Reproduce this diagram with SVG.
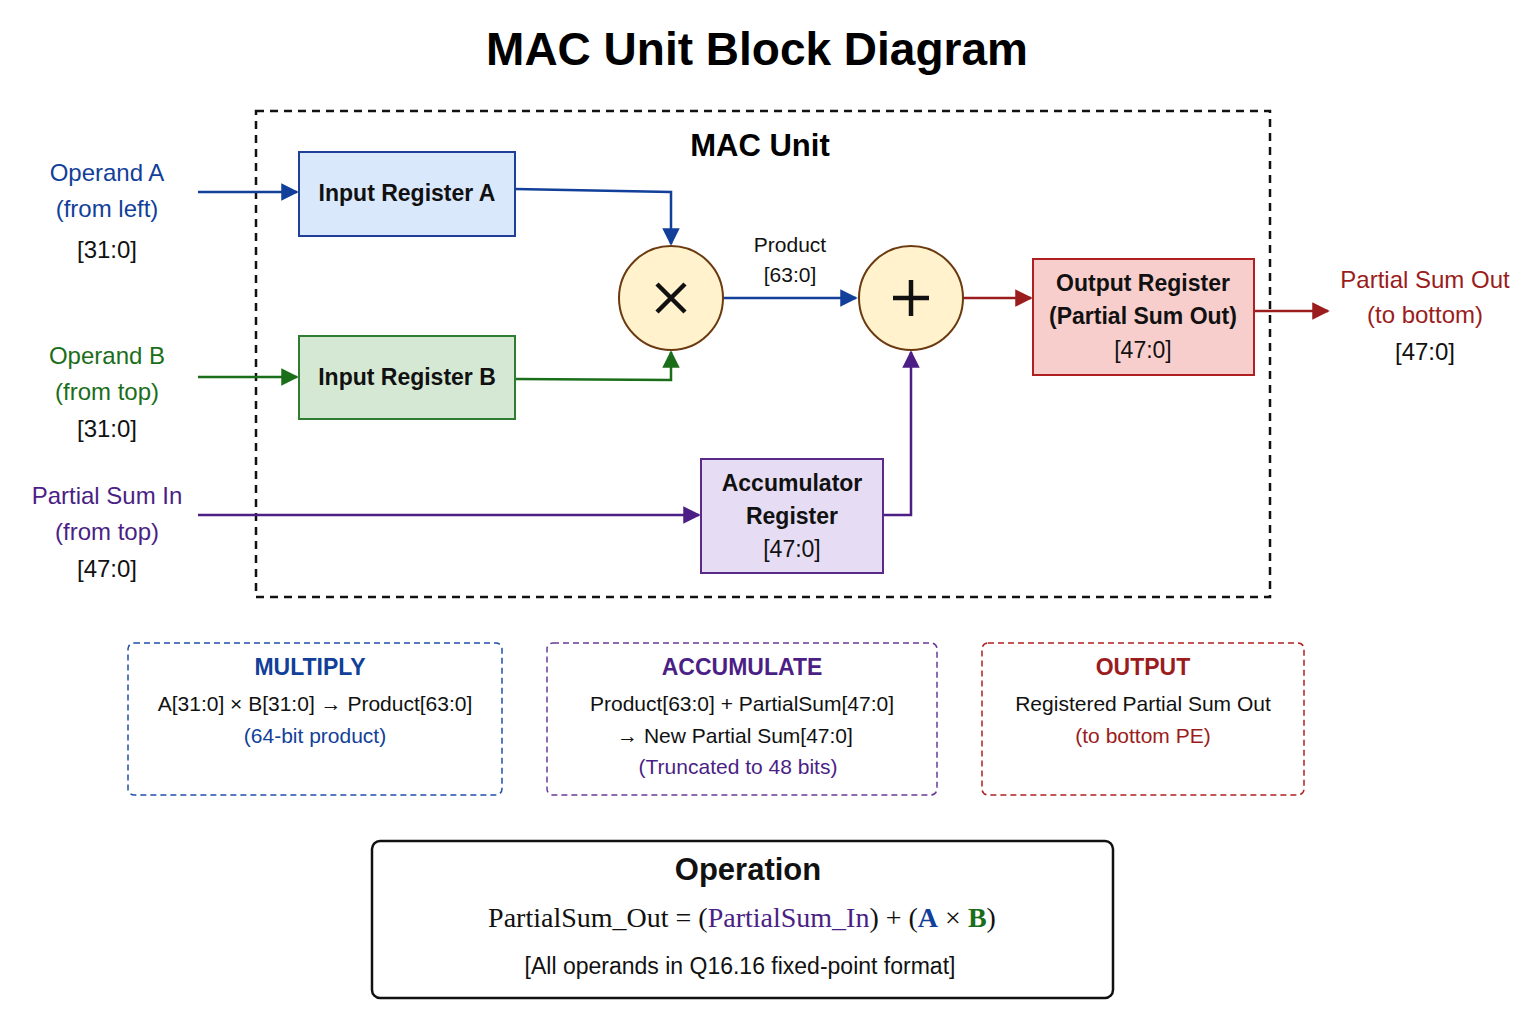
<svg xmlns="http://www.w3.org/2000/svg" width="1536" height="1024" viewBox="0 0 1536 1024">
<style>
text{font-family:"Liberation Sans",Arial,sans-serif;text-anchor:middle}
.b{font-weight:bold}
.lbl{font-size:24px}
.reg{font-size:23px;font-weight:bold;fill:#111}
.w{fill:none;stroke-width:2.5}
.sm{font-size:21px}
</style>
<defs>
<marker id="mb" viewBox="0 0 10 10" refX="9" refY="5" markerWidth="7" markerHeight="7" orient="auto"><path d="M0,0L10,5L0,10z" fill="#123f99"/></marker>
<marker id="mg" viewBox="0 0 10 10" refX="9" refY="5" markerWidth="7" markerHeight="7" orient="auto"><path d="M0,0L10,5L0,10z" fill="#1a6e1a"/></marker>
<marker id="mp" viewBox="0 0 10 10" refX="9" refY="5" markerWidth="7" markerHeight="7" orient="auto"><path d="M0,0L10,5L0,10z" fill="#4b1f85"/></marker>
<marker id="mr" viewBox="0 0 10 10" refX="9" refY="5" markerWidth="7" markerHeight="7" orient="auto"><path d="M0,0L10,5L0,10z" fill="#9b1c1c"/></marker>
</defs>
<rect width="1536" height="1024" fill="#fff"/>
<text x="757" y="65" class="b" font-size="46">MAC Unit Block Diagram</text>
<rect x="256" y="111" width="1014" height="486" fill="none" stroke="#111" stroke-width="2.5" stroke-dasharray="8,6"/>
<text x="760" y="156" class="b" font-size="31">MAC Unit</text>

<g id="labels" class="lbl">
<text x="107" y="181" fill="#123f99">Operand A</text>
<text x="107" y="217" fill="#123f99">(from left)</text>
<text x="107" y="258" fill="#111">[31:0]</text>
<text x="107" y="364" fill="#1a6e1a">Operand B</text>
<text x="107" y="400" fill="#1a6e1a">(from top)</text>
<text x="107" y="437" fill="#111">[31:0]</text>
<text x="107" y="504" fill="#4b1f85">Partial Sum In</text>
<text x="107" y="540" fill="#4b1f85">(from top)</text>
<text x="107" y="577" fill="#111">[47:0]</text>
<text x="1425" y="288" fill="#9b1c1c">Partial Sum Out</text>
<text x="1425" y="323" fill="#9b1c1c">(to bottom)</text>
<text x="1425" y="360" fill="#111">[47:0]</text>
</g>

<g id="connectors">
<path class="w" stroke="#123f99" d="M198,192H297" marker-end="url(#mb)"/>
<path class="w" stroke="#123f99" d="M515,189L671,192V244" marker-end="url(#mb)"/>
<path class="w" stroke="#1a6e1a" d="M198,377H297" marker-end="url(#mg)"/>
<path class="w" stroke="#1a6e1a" d="M515,379L671,380V352" marker-end="url(#mg)"/>
<path class="w" stroke="#4b1f85" d="M198,515H699" marker-end="url(#mp)"/>
<path class="w" stroke="#4b1f85" d="M883,515H911V352" marker-end="url(#mp)"/>
<path class="w" stroke="#123f99" d="M723,298H856" marker-end="url(#mb)"/>
<path class="w" stroke="#9b1c1c" d="M963,298H1031" marker-end="url(#mr)"/>
<path class="w" stroke="#9b1c1c" d="M1254,311H1328" marker-end="url(#mr)"/>
<text x="790" y="252" class="sm" fill="#111">Product</text>
<text x="790" y="282" class="sm" fill="#111">[63:0]</text>
</g>

<g id="regA"><rect x="299" y="152" width="216" height="84" fill="#dae8fc" stroke="#1f3f99" stroke-width="2"/><text x="407" y="201" class="reg">Input Register A</text></g>
<g id="regB"><rect x="299" y="336" width="216" height="83" fill="#d5e8d4" stroke="#2e7d32" stroke-width="2"/><text x="407" y="385" class="reg">Input Register B</text></g>
<g id="mul"><circle cx="671" cy="298" r="52" fill="#fff2cc" stroke="#6b3a10" stroke-width="2"/><path d="M657,284L685,312M685,284L657,312" stroke="#111" stroke-width="4.5"/></g>
<g id="add"><circle cx="911" cy="298" r="52" fill="#fff2cc" stroke="#6b3a10" stroke-width="2"/><path d="M911,280V316M893,298H929" stroke="#111" stroke-width="4.5"/></g>
<g id="outReg"><rect x="1033" y="259" width="221" height="116" fill="#f8cecc" stroke="#b02020" stroke-width="2"/>
<text x="1143" y="291" class="reg">Output Register</text><text x="1143" y="324" class="reg">(Partial Sum Out)</text><text x="1143" y="358" font-size="23" fill="#111">[47:0]</text></g>
<g id="acc"><rect x="701" y="459" width="182" height="114" fill="#e6dcf3" stroke="#5a2a8a" stroke-width="2"/>
<text x="792" y="491" class="reg">Accumulator</text><text x="792" y="524" class="reg">Register</text><text x="792" y="557" font-size="23" fill="#111">[47:0]</text></g>

<g id="multiply"><rect x="128" y="643" width="374" height="152" rx="6" fill="none" stroke="#1f4fa8" stroke-width="1.5" stroke-dasharray="6,4"/>
<text x="310" y="675" class="b" font-size="23" fill="#123f99">MULTIPLY</text>
<text x="315" y="711" class="sm" fill="#111">A[31:0] × B[31:0] → Product[63:0]</text>
<text x="315" y="743" class="sm" fill="#123f99">(64-bit product)</text></g>
<g id="accumulate"><rect x="547" y="643" width="390" height="152" rx="6" fill="none" stroke="#6a3a9a" stroke-width="1.5" stroke-dasharray="6,4"/>
<text x="742" y="675" class="b" font-size="23" fill="#4b1f85">ACCUMULATE</text>
<text x="742" y="711" class="sm" fill="#111">Product[63:0] + PartialSum[47:0]</text>
<text x="735" y="743" class="sm" fill="#111">→ New Partial Sum[47:0]</text>
<text x="738" y="774" class="sm" fill="#4b1f85">(Truncated to 48 bits)</text></g>
<g id="output"><rect x="982" y="643" width="322" height="152" rx="6" fill="none" stroke="#b02020" stroke-width="1.5" stroke-dasharray="6,4"/>
<text x="1143" y="675" class="b" font-size="23" fill="#9b1c1c">OUTPUT</text>
<text x="1143" y="711" class="sm" fill="#111">Registered Partial Sum Out</text>
<text x="1143" y="743" class="sm" fill="#9b1c1c">(to bottom PE)</text></g>
<g id="operation"><rect x="372" y="841" width="741" height="157" rx="8" fill="none" stroke="#111" stroke-width="2.5"/>
<text x="748" y="880" class="b" font-size="31" fill="#111">Operation</text>
<text x="742" y="927" font-size="28" fill="#111" style="font-family:'Liberation Serif',serif">PartialSum_Out = (<tspan fill="#4b1f85">PartialSum_In</tspan>) + (<tspan fill="#123f99" font-weight="bold">A</tspan> × <tspan fill="#1a6e1a" font-weight="bold">B</tspan>)</text>
<text x="740" y="974" font-size="23" fill="#111">[All operands in Q16.16 fixed-point format]</text></g>
</svg>
